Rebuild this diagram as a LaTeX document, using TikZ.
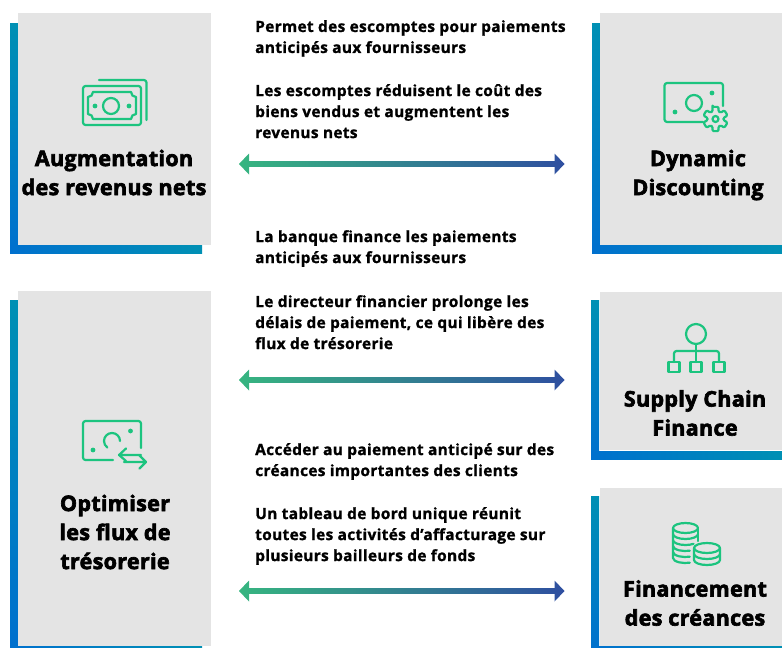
\documentclass[tikz,border=0pt]{standalone}
\usepackage{fontspec}
\setmainfont{Open Sans}[BoldFeatures={FakeBold=1.1, LetterSpace=1.9}]
\newfontfamily\headfont{Open Sans}[BoldFeatures={FakeBold=3, LetterSpace=1.5}]
\usetikzlibrary{calc}
\definecolor{panelgray}{HTML}{E4E4E4}
\definecolor{icongreen}{HTML}{1CC47F}
\definecolor{barteal}{HTML}{0090B4}
\definecolor{barblue}{HTML}{0070CE}
\definecolor{arrowgreen}{HTML}{36B580}
\definecolor{arrowblue}{HTML}{2F4FA0}
\tikzset{
    panel/.style={fill=panelgray, inner sep=0pt, anchor=north west},
    headtext/.style={font=\headfont\bfseries\fontsize{21.5}{29}\selectfont, align=center, text=black, inner sep=0pt, anchor=center},
    bodytext/.style={font=\bfseries\fontsize{15.5}{21}\selectfont, align=left, text=black, inner sep=0pt, anchor=north west},
    icon/.style={draw=icongreen, line width=2.2pt, line cap=round, line join=round}
}
% shaded double arrow between two named coordinates
\newcommand{\gradarrow}[2]{
    \path[left color=arrowgreen, right color=arrowblue]
        (#1) -- ($(#1)+(10,-10.5)$) -- ($(#1)+(10,-2.8)$) -- ($(#2)+(-10,-2.8)$) -- ($(#2)+(-10,-10.5)$) -- (#2)
        -- ($(#2)+(-10,10.5)$) -- ($(#2)+(-10,2.8)$) -- ($(#1)+(10,2.8)$) -- ($(#1)+(10,10.5)$) -- cycle;
}
% L shaped blue bar: left, top, right, bottom
\newcommand{\leftbar}[4]{
    \path[top color=barteal, bottom color=barblue] (#1, #2) rectangle (#1+8, #4);
    \path[left color=barblue, right color=barteal] (#1, #4-8) rectangle (#3, #4);
}
\begin{document}
\begin{tikzpicture}[x=1pt, y=-1pt]
    \useasboundingbox (0, 0) rectangle (782, 648);
    \clip (0, 0) rectangle (782, 648);

    % blue bars behind the panels
    \leftbar{10}{23}{202}{253}
    \leftbar{592}{23}{782}{253}
    \leftbar{10}{300}{202}{649}
    \leftbar{591}{300}{782}{459}
    \leftbar{591}{496}{782}{654}

    % panels
    \node[panel, minimum width=193pt, minimum height=232pt] (revenus) at (18, 13) {};
    \node[panel, minimum width=182pt, minimum height=232pt] (dynamic) at (600, 13) {};
    \node[panel, minimum width=193pt, minimum height=355pt] (optimiser) at (18, 291) {};
    \node[panel, minimum width=182pt, minimum height=158pt] (supply) at (600, 292) {};
    \node[panel, minimum width=182pt, minimum height=158pt] (creances) at (600, 488) {};

    \node[headtext] (revenuslabel) at (114, 172.5) {Augmentation\\des revenus nets};
    \node[headtext] (dynamiclabel) at (698, 175) {Dynamic\\Discounting};
    \node[headtext] (optimiserlabel) at (115, 532) {Optimiser\\les flux de\\trésorerie};
    \node[headtext] (supplylabel) at (695, 413) {Supply Chain\\Finance};
    \node[headtext] (creanceslabel) at (695, 603) {Financement\\des créances};

    % texts in the middle
    \node[bodytext] (text1) at (255, 20) {Permet des escomptes pour paiements\\anticipés aux fournisseurs};
    \node[bodytext] (text2) at (255, 84) {Les escomptes réduisent le coût des\\biens vendus et augmentent les\\revenus nets};
    \node[bodytext] (text3) at (255, 230) {La banque finance les paiements\\anticipés aux fournisseurs};
    \node[bodytext] (text4) at (255, 295) {Le directeur financier prolonge les\\délais de paiement, ce qui libère des\\flux de trésorerie};
    \node[bodytext] (text5) at (255, 443) {Accéder au paiement anticipé sur des\\créances importantes des clients};
    \node[bodytext] (text6) at (255, 507) {Un tableau de bord unique réunit\\toutes les activités d’affacturage sur\\plusieurs bailleurs de fonds};

    % arrows
    \coordinate (arrow1a) at (239, 164);
    \coordinate (arrow1b) at (564.5, 164);
    \coordinate (arrow2a) at (239, 380);
    \coordinate (arrow2b) at (564.5, 380);
    \coordinate (arrow3a) at (239, 591);
    \coordinate (arrow3b) at (564.5, 591);
    \gradarrow{arrow1a}{arrow1b}
    \gradarrow{arrow2a}{arrow2b}
    \gradarrow{arrow3a}{arrow3b}

    % banknotes icon
    \draw[icon, rounded corners=2.5pt] (83, 86) rectangle (141, 125);
    \draw[icon, rounded corners=2.5pt] (99, 80) -- (146.5, 80) -- (146.5, 120);
    \draw[icon] (93, 92) -- (131, 92) arc[start angle=180, end angle=90, radius=5] -- (136, 114)
        arc[start angle=-90, end angle=-180, radius=5] -- (93, 119)
        arc[start angle=0, end angle=-90, radius=5] -- (88, 97)
        arc[start angle=90, end angle=0, radius=5] -- cycle;
    \draw[icon] (111, 106) circle[radius=8];
    \fill[icongreen] (95, 106) circle[radius=2.4] (129, 106) circle[radius=2.4];

    % banknote with gear icon
    \draw[icon, rounded corners=2.5pt] (723, 106) -- (723, 83) -- (664.5, 83) -- (664.5, 122) -- (703, 122);
    \draw[icon] (694, 103) circle[radius=8];
    \fill[icongreen] (675, 112) circle[radius=2.4] (712, 93) circle[radius=2.4];
    \coordinate (gear) at (715.5, 119);
    \draw[icon, rounded corners=1.2pt] ($(gear)+(-104:12.5)$)
        \foreach \a in {-90, -30, 30, 90, 150, 210} {
            -- ($(gear)+(\a-14:12.5)$) -- ($(gear)+(\a+14:12.5)$) -- ($(gear)+(\a+22:8)$) -- ($(gear)+(\a+38:8)$)
        } -- cycle;
    \draw[icon] (gear) circle[radius=3];

    % banknote with arrows icon
    \draw[icon, rounded corners=2.5pt] (141, 448) -- (141, 421) -- (83, 421) -- (83, 460) -- (113, 460);
    \draw[icon] (120, 441) arc[start angle=0, end angle=-235, radius=8];
    \fill[icongreen] (93, 450) circle[radius=2.4] (130.5, 431) circle[radius=2.4];
    \draw[icon] (141, 455) -- (119, 455) (126, 448.5) -- (119, 455) -- (126, 461);
    \draw[icon] (124, 462) -- (146, 462) (139.5, 455.5) -- (146, 462) -- (139.5, 468.5);

    % tree icon
    \draw[icon] (696, 334) circle[radius=10];
    \draw[icon] (696, 344) -- (696, 362);
    \draw[icon, rounded corners=2.5pt] (674, 362) -- (674, 351) -- (719, 351) -- (719, 362);
    \draw[icon] (668.5, 362) rectangle (679.5, 372);
    \draw[icon] (690.5, 362) rectangle (701.5, 372);
    \draw[icon] (713.5, 362) rectangle (724.5, 372);

    % coins icon
    \draw[icon] (685.5, 528) ellipse[x radius=12.5, y radius=5];
    \draw[icon] (673, 528) -- (673, 558) arc[start angle=180, end angle=70, x radius=12.5, y radius=5];
    \draw[icon] (698, 528) -- (698, 541);
    \draw[icon] (673, 534) arc[start angle=180, end angle=0, x radius=12.5, y radius=5];
    \draw[icon] (673, 540) arc[start angle=180, end angle=50, x radius=12.5, y radius=5];
    \draw[icon] (673, 546) arc[start angle=180, end angle=70, x radius=12.5, y radius=5];
    \draw[icon] (673, 552) arc[start angle=180, end angle=70, x radius=12.5, y radius=5];
    \draw[icon] (707, 548) ellipse[x radius=13, y radius=5];
    \draw[icon] (694, 548) -- (694, 560) arc[start angle=180, end angle=0, x radius=13, y radius=5] -- (720, 548);
    \draw[icon] (694, 554) arc[start angle=180, end angle=0, x radius=13, y radius=5];
\end{tikzpicture}
\end{document}
